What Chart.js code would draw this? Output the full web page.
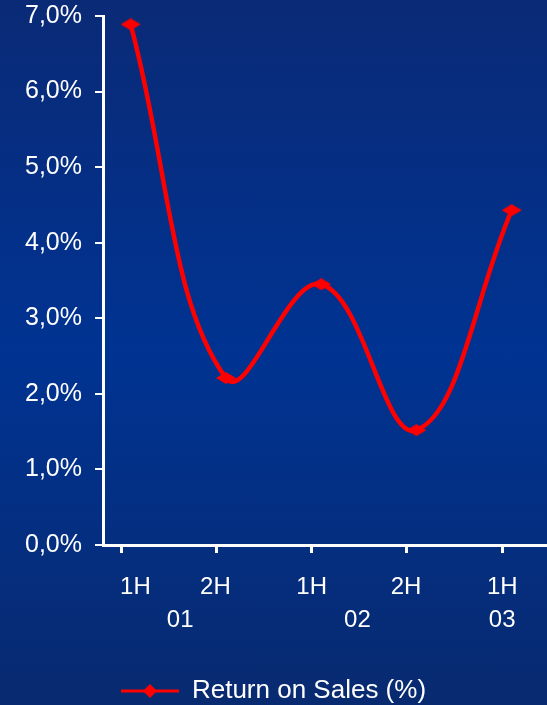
<!DOCTYPE html>
<html lang="en">
<head>
  <meta charset="UTF-8">
  <title>Return on Sales</title>
  <script src="https://cdn.jsdelivr.net/npm/chart.js"></script>
  <style>
    html, body { margin: 0; padding: 0; }
    body {
      width: 547px; height: 705px; overflow: hidden;
      background: linear-gradient(to bottom, #0a2a76 0%, #003392 50%, #082a70 100%);
    }
    canvas { display: block; }
  </style>
</head>
<body>
  <canvas id="grafico" width="547" height="705"></canvas>

  <script>
    // datos
    const halfLabels = ['1H', '2H', '1H', '2H', '1H'];
    const halfPos = [0.05, 0.89, 1.9, 2.89, 3.9];   // donde van los textos 1H/2H
    const tickPos = [-0.1, 0.9, 1.9, 2.9, 3.9];     // marcas del eje x
    const yearLabels = ['01', '02', '03'];
    const yearPos = [0.52, 2.38, 3.9];
    const rosValues = [6.89, 2.21, 3.45, 1.52, 4.43];   // % return on sales
    const serieNombre = 'Return on Sales (%)';

    const fuente = '"Liberation Sans", Arial, sans-serif';
    const rojo = '#ff0000';

    // rombo aplanado como en el original
    function rombo(w, h) {
      const c = document.createElement('canvas');
      c.width = w; c.height = h;
      const g = c.getContext('2d');
      g.fillStyle = rojo;
      g.beginPath();
      g.moveTo(w / 2, 0); g.lineTo(w, h / 2); g.lineTo(w / 2, h); g.lineTo(0, h / 2);
      g.closePath();
      g.fill();
      return c;
    }

    // simbolo de la leyenda: linea con rombo
    function simboloLeyenda() {
      const c = document.createElement('canvas');
      c.width = 58; c.height = 16;
      const g = c.getContext('2d');
      g.strokeStyle = rojo;
      g.lineWidth = 3;
      g.beginPath(); g.moveTo(0, 8); g.lineTo(58, 8); g.stroke();
      g.fillStyle = rojo;
      g.beginPath();
      g.moveTo(29, 1); g.lineTo(36, 8); g.lineTo(29, 15); g.lineTo(22, 8);
      g.closePath(); g.fill();
      return c;
    }

    const puntos = rosValues.map((v, i) => ({ x: i, y: v }));
    const xMin = -0.29, xMax = 4.37;

    // eje x auxiliar solo con textos
    function ejeTexto(pos, textos, alto, pad) {
      return {
        type: 'linear',
        position: 'bottom',
        min: xMin, max: xMax,
        afterBuildTicks: s => { s.ticks = pos.map(p => ({ value: p })); },
        afterFit: s => { s.height = alto; s.paddingLeft = 0; s.paddingRight = 0; },
        grid: { display: false, drawTicks: false },
        border: { display: false },
        ticks: {
          autoSkip: false, maxRotation: 0, padding: pad,
          color: '#ffffff', font: { family: fuente, size: 24 },
          callback: (v, i) => textos[i]
        }
      };
    }

    new Chart(document.getElementById('grafico'), {
      type: 'line',
      data: {
        datasets: [{
          label: serieNombre,
          data: puntos,
          borderColor: rojo,
          backgroundColor: rojo,
          borderWidth: 4.5,
          tension: 0.4,
          pointStyle: rombo(20, 12),
          pointRadius: 8,
          clip: false
        }]
      },
      options: {
        responsive: false,
        animation: false,
        layout: { autoPadding: false, padding: { top: 16, right: 0, left: 0, bottom: 0 } },
        plugins: {
          tooltip: { enabled: false },
          legend: {
            position: 'bottom',
            maxHeight: 28,
            labels: {
              color: '#ffffff',
              padding: 1,
              font: { family: fuente, size: 26 },
              usePointStyle: true,
              pointStyleWidth: 58,
              generateLabels: () => [{
                text: serieNombre,
                pointStyle: simboloLeyenda(),
                fillStyle: rojo,
                strokeStyle: rojo,
                lineWidth: 0,
                fontColor: '#ffffff',
                datasetIndex: 0
              }]
            }
          }
        },
        scales: {
          x: {
            type: 'linear',
            position: 'bottom',
            min: xMin, max: xMax,
            afterBuildTicks: s => { s.ticks = tickPos.map(p => ({ value: p })); },
            afterFit: s => { s.height = 20; s.paddingLeft = 0; s.paddingRight = 0; },
            grid: { drawOnChartArea: false, drawTicks: true, tickLength: 8, color: '#ffffff', lineWidth: 3 },
            border: { display: true, color: '#ffffff', width: 3 },
            ticks: { autoSkip: false, callback: () => '' }
          },
          semestre: ejeTexto(halfPos, halfLabels, 35, 8),
          anio: ejeTexto(yearPos, yearLabels, 77, 6),
          y: {
            min: 0, max: 7,
            afterFit: s => { s.width = 103; s.paddingTop = 0; s.paddingBottom = 0; },
            grid: { drawOnChartArea: false, drawTicks: true, tickLength: 8, color: '#ffffff', lineWidth: 2 },
            border: { display: true, color: '#ffffff', width: 3 },
            ticks: {
              stepSize: 1, padding: 13,
              color: '#ffffff', font: { family: fuente, size: 25 },
              callback: v => v.toFixed(1).replace('.', ',') + '%'
            }
          }
        }
      }
    });
  </script>
</body>
</html>
